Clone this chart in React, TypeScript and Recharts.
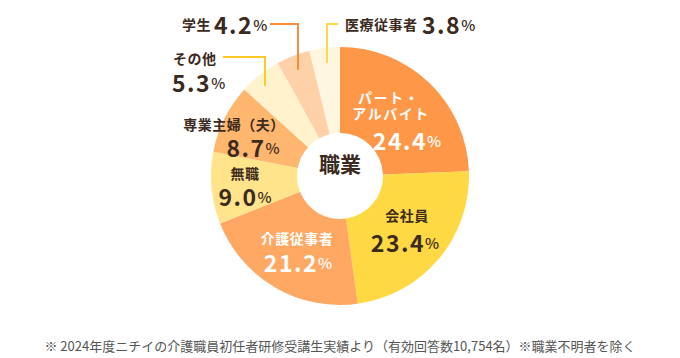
import { PieChart, Pie, Cell, Label } from "recharts";

const categories = [
  "パート・アルバイト",
  "会社員",
  "介護従事者",
  "無職",
  "専業主婦（夫）",
  "その他",
  "学生",
  "医療従事者",
];
const shares = [24.4, 23.4, 21.2, 9.0, 8.7, 5.3, 4.2, 3.8];
const sliceColors = [
  "#ff9748",
  "#ffd944",
  "#ffa864",
  "#ffe48c",
  "#ffb66f",
  "#fff2cc",
  "#ffd1a8",
  "#fff6e0",
];
const centerTitle = "職業";
const footnote =
  "※ 2024年度ニチイの介護職員初任者研修受講生実績より（有効回答数10,754名）※職業不明者を除く";

const data = categories.map((name, i) => ({ name, value: shares[i] }));

const FONT = "'Noto Sans CJK JP', 'Noto Sans', sans-serif";
const DARK = "#3b2a1d";

// label placement relative to the pie centre
type Place = {
  lines: { dx: number; dy: number }[];
  num: { dx: number; dy: number };
  anchor: "middle" | "start";
  color: string;
  leader?: { pts: [number, number][]; color: string };
};

const places: Place[] = [
  { lines: [{ dx: 49, dy: -79 }, { dx: 51, dy: -63 }], num: { dx: 67, dy: -36 }, anchor: "middle", color: "#fff" },
  { lines: [{ dx: 67, dy: 39 }], num: { dx: 65, dy: 66 }, anchor: "middle", color: DARK },
  { lines: [{ dx: -43, dy: 62 }], num: { dx: -42, dy: 86 }, anchor: "middle", color: "#fff" },
  { lines: [{ dx: -95, dy: -3 }], num: { dx: -95, dy: 20 }, anchor: "middle", color: DARK },
  { lines: [{ dx: -106, dy: -52 }], num: { dx: -87, dy: -29 }, anchor: "middle", color: DARK },
  {
    lines: [{ dx: -167, dy: -118 }],
    num: { dx: -168, dy: -94 },
    anchor: "start",
    color: DARK,
    leader: { pts: [[-117, -119], [-75, -119], [-75, -90]], color: "#ffc928" },
  },
  {
    lines: [{ dx: -158, dy: -152 }],
    num: { dx: -126, dy: -152 },
    anchor: "start",
    color: DARK,
    leader: { pts: [[-70, -152], [-42, -152], [-42, -106]], color: "#ff8c3a" },
  },
  {
    lines: [{ dx: 5, dy: -152 }],
    num: { dx: 82, dy: -152 },
    anchor: "start",
    color: DARK,
    leader: { pts: [[-2, -152], [-13, -152], [-13, -113]], color: "#ffd84a" },
  },
];

function splitName(i: number): string[] {
  if (i === 0) return ["パート・", "アルバイト"];
  return [categories[i]];
}

function SliceLabel(props: any) {
  const { cx, cy, index } = props;
  const p = places[index];
  if (!p) return null;
  const names = splitName(index);
  const value = shares[index].toFixed(1);
  return (
    <g>
      {p.leader && (
        <polyline
          points={p.leader.pts.map(([x, y]) => `${cx + x},${cy + y}`).join(" ")}
          fill="none"
          stroke={p.leader.color}
          strokeWidth={2}
        />
      )}
      {names.map((n, k) => (
        <text
          key={k}
          x={cx + p.lines[k].dx}
          y={cy + p.lines[k].dy}
          textAnchor={p.anchor}
          dominantBaseline="central"
          fill={p.color}
          fontSize={14}
          fontWeight={700}
          fontFamily={FONT}
          letterSpacing={index === 0 ? 1.5 : 0.5}
        >
          {n}
        </text>
      ))}
      <text
        x={cx + p.num.dx}
        y={cy + p.num.dy}
        textAnchor={p.anchor}
        dominantBaseline="central"
        fill={p.color}
        fontFamily={FONT}
        fontWeight={700}
      >
        <tspan fontSize={23} letterSpacing={1.5}>
          {value}
        </tspan>
        <tspan fontSize={15} fontWeight={500}>
          %
        </tspan>
      </text>
    </g>
  );
}

export default function App() {
  return (
    <div
      style={{
        position: "absolute",
        left: 0,
        top: 0,
        width: 680,
        height: 358,
        background: "#fff",
      }}
    >
      <PieChart width={680} height={330} margin={{ top: 0, right: 0, bottom: 0, left: 0 }}>
        <Pie
          data={data}
          dataKey="value"
          nameKey="name"
          cx={340}
          cy={176}
          innerRadius={43}
          outerRadius={129}
          startAngle={90}
          endAngle={-270}
          stroke="none"
          label={SliceLabel}
          labelLine={false}
          isAnimationActive={false}
        >
          {data.map((d, i) => (
            <Cell key={d.name} fill={sliceColors[i]} />
          ))}
          <Label
            position="center"
            value={centerTitle}
            fill={DARK}
            fontSize={21}
            fontWeight={700}
            fontFamily={FONT}
          />
        </Pie>
      </PieChart>
      <div
        style={{
          position: "absolute",
          top: 337,
          left: 0,
          width: 680,
          textAlign: "center",
          fontFamily: FONT,
          fontSize: 13,
          color: "#555",
          lineHeight: "18px",
        }}
      >
        {footnote}
      </div>
    </div>
  );
}
